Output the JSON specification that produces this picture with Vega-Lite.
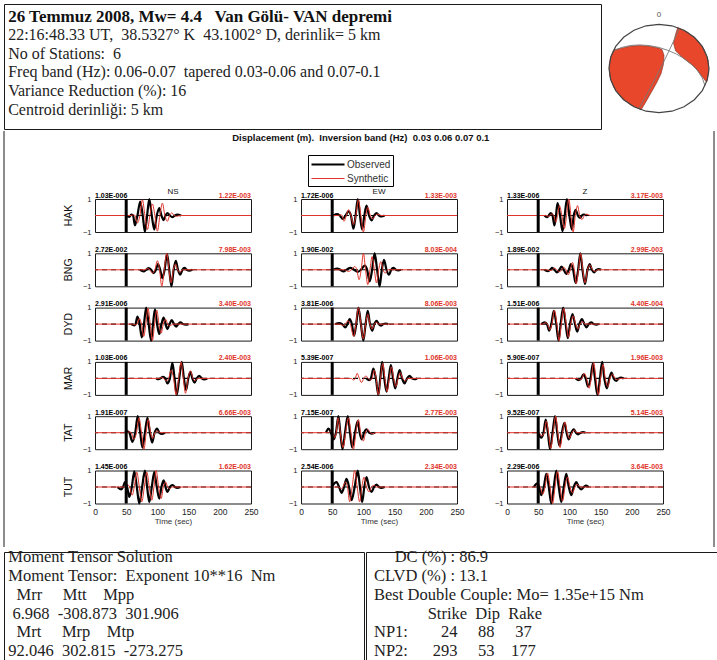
{
"$schema": "https://vega.github.io/schema/vega-lite/v6.json",
"padding": {"left": 3, "top": 3, "right": 2, "bottom": 0},
"background": "white",
"spacing": 0,
"config": {
  "view": {"stroke": "#1a1a1a", "strokeWidth": 1},
  "font": "Liberation Sans",
  "axis": {"grid": false, "domain": false, "ticks": false, "labelColor": "#222", "titleColor": "#333", "labelOverlap": false},
  "axisX": {"labelOverlap": false, "labelFlush": false},
  "concat": {"spacing": 0}
},
"vconcat": [
  {"hconcat": [
    {
      "width": 597, "height": 125,
      "data": {"values": [
        {"line": 1, "txt": "26 Temmuz 2008, Mw= 4.4\u00a0\u00a0 Van Gölü- VAN depremi"},
        {"line": 2, "txt": "22:16:48.33 UT,\u00a0 38.5327° K\u00a0 43.1002° D, derinlik= 5 km"},
        {"line": 3, "txt": "No of Stations:\u00a0 6"},
        {"line": 4, "txt": "Freq band (Hz): 0.06-0.07\u00a0 tapered 0.03-0.06 and 0.07-0.1"},
        {"line": 5, "txt": "Variance Reduction (%): 16"},
        {"line": 6, "txt": "Centroid derinliği: 5 km"}
      ]},
      "encoding": {
        "x": {"datum": 0.7, "type": "quantitative", "scale": {"domain": [0, 100], "nice": false}, "axis": null},
        "y": {"field": "line", "type": "quantitative", "scale": {"domain": [0.0591, 6.7795], "reverse": true, "nice": false, "zero": false}, "axis": null},
        "text": {"field": "txt"}
      },
      "layer": [
        {"transform": [{"filter": "datum.line == 1"}], "mark": {"type": "text", "align": "left", "baseline": "alphabetic", "font": "Liberation Serif", "fontSize": 17, "fontWeight": "bold", "color": "#111"}},
        {"transform": [{"filter": "datum.line > 1"}], "mark": {"type": "text", "align": "left", "baseline": "alphabetic", "font": "Liberation Serif", "fontSize": 16, "color": "#222"}}
      ]
    },
    {
      "width": 114, "height": 125,
      "projection": {"type": "identity", "reflectY": true, "scale": 1, "translate": [57, 64.5]},
      "layer": [
        {
          "data": {"values": [
            {"type": "Feature", "properties": {"q": "P"}, "geometry": {"type": "Polygon", "coordinates": [[[-45.32,18.68],[-37.5,20.33],[-28.5,22.32],[-19.5,22.98],[-10,22.32],[-0.5,20.55],[3,19.01],[5,13.26],[4.5,4.42],[2,-5.3],[-2.5,-14.59],[-8.5,-25.19],[-13.5,-34.03],[-17.92,-41.27],[-28.68,-36.21],[-38.3,-28.41],[-45.32,-18.68],[-49.24,-7.67],[-49.81,3.85],[-48.3,11.44],[-45.32,18.68]]]}},
            {"type": "Feature", "properties": {"q": "P"}, "geometry": {"type": "Polygon", "coordinates": [[[18.73,40.98],[16.5,34.03],[14.5,25.64],[16.5,17.68],[25,9.72],[36,1.33],[47.55,-13.66],[49.81,-3.85],[49.24,7.67],[45.32,18.68],[38.3,28.41],[28.68,36.21],[18.73,40.98]]]}}
          ]},
          "mark": {"type": "geoshape", "fill": "#e8472b", "stroke": "#7a2a1c", "strokeWidth": 0.6}
        },
        {
          "data": {"values": [
            {"type": "Feature", "properties": {"q": "NP1"}, "geometry": {"type": "LineString", "coordinates": [[20.34,40.38],[16.97,32.57],[11.87,21.51],[6.08,9.49],[1.13,-0.44],[-3.92,-10.34],[-10.14,-22.19],[-16.03,-32.94],[-20.34,-40.38]]}},
            {"type": "Feature", "properties": {"q": "NP2"}, "geometry": {"type": "LineString", "coordinates": [[-46.03,17.27],[-37.7,20.95],[-28.75,22.98],[-19.35,23.6],[-9.85,22.94],[-0.4,21.13],[8.75,18.25],[17.5,14.41],[25.5,9.68],[32.65,4.07],[38.7,-2.3],[43.25,-9.41],[46.03,-17.27]]}}
          ]},
          "mark": {"type": "geoshape", "filled": false, "stroke": "#777", "strokeWidth": 0.9}
        },
        {
          "data": {"values": [
            {"type": "Feature", "properties": {"q": "circle"}, "geometry": {"type": "LineString", "coordinates": [[0,44.2],[12.94,42.69],[25,38.28],[35.36,31.25],[43.3,22.1],[48.3,11.44],[50,0],[48.3,-11.44],[43.3,-22.1],[35.36,-31.25],[25,-38.28],[12.94,-42.69],[0,-44.2],[-12.94,-42.69],[-25,-38.28],[-35.36,-31.25],[-43.3,-22.1],[-48.3,-11.44],[-50,0],[-48.3,11.44],[-43.3,22.1],[-35.36,31.25],[-25,38.28],[-12.94,42.69],[0,44.2]]}}
          ]},
          "mark": {"type": "geoshape", "filled": false, "stroke": "#444", "strokeWidth": 1.2}
        },
        {
          "data": {"values": [{"lab": "0"}]},
          "mark": {"type": "text", "fontSize": 8, "color": "#555", "baseline": "middle"},
          "encoding": {
            "longitude": {"datum": 0, "type": "quantitative"},
            "latitude": {"datum": 54, "type": "quantitative"},
            "text": {"field": "lab"}
          }
        }
      ]
    }
  ]},
  {"hconcat": [
    {"width": 59, "height": 416, "view": {"stroke": null}, "data": {"values": [{}]},
     "mark": {"type": "rule", "color": "#1a1a1a", "strokeWidth": 1},
     "encoding": {"x": {"datum": 0, "type": "quantitative", "scale": {"domain": [0, 1], "nice": false}, "axis": null}}},
    {"vconcat": [
    {"width": 1, "height": 1, "view": {"stroke": null}, "data": {"values": [{}]},
     "mark": {"type": "rule", "opacity": 0, "strokeWidth": 0.1},
     "encoding": {"x": {"datum": 0, "type": "quantitative", "scale": {"domain": [0, 1], "nice": false}, "axis": null}}},
    {
        "data": {"values": [
{"s":"HAK","c":"NS","k":"amp","a":"1.03E-006","b":"1.22E-003","t0":50},
{"s":"HAK","c":"EW","k":"amp","a":"1.72E-006","b":"1.33E-003","t0":50},
{"s":"HAK","c":"Z","k":"amp","a":"1.33E-006","b":"3.17E-003","t0":50},
{"s":"BNG","c":"NS","k":"amp","a":"2.72E-002","b":"7.98E-003","t0":50},
{"s":"BNG","c":"EW","k":"amp","a":"1.90E-002","b":"8.03E-004","t0":50},
{"s":"BNG","c":"Z","k":"amp","a":"1.89E-002","b":"2.99E-003","t0":50},
{"s":"DYD","c":"NS","k":"amp","a":"2.91E-006","b":"3.40E-003","t0":50},
{"s":"DYD","c":"EW","k":"amp","a":"3.81E-006","b":"8.06E-003","t0":50},
{"s":"DYD","c":"Z","k":"amp","a":"1.51E-006","b":"4.40E-004","t0":50},
{"s":"MAR","c":"NS","k":"amp","a":"1.03E-006","b":"2.40E-003","t0":50},
{"s":"MAR","c":"EW","k":"amp","a":"5.39E-007","b":"1.06E-003","t0":50},
{"s":"MAR","c":"Z","k":"amp","a":"5.90E-007","b":"1.96E-003","t0":50},
{"s":"TAT","c":"NS","k":"amp","a":"1.91E-007","b":"6.66E-003","t0":50},
{"s":"TAT","c":"EW","k":"amp","a":"7.15E-007","b":"2.77E-003","t0":50},
{"s":"TAT","c":"Z","k":"amp","a":"9.52E-007","b":"5.14E-003","t0":50},
{"s":"TUT","c":"NS","k":"amp","a":"1.45E-006","b":"1.62E-003","t0":50},
{"s":"TUT","c":"EW","k":"amp","a":"2.54E-006","b":"2.34E-003","t0":50},
{"s":"TUT","c":"Z","k":"amp","a":"2.29E-006","b":"3.64E-003","t0":50},

{"s":"HAK","c":"NS","k":"O","t":50,"v":0},{"s":"HAK","c":"NS","k":"O","t":55,"v":-0.08},{"s":"HAK","c":"NS","k":"O","t":58,"v":0.05},{"s":"HAK","c":"NS","k":"O","t":61,"v":0},{"s":"HAK","c":"NS","k":"O","t":64,"v":-0.6},{"s":"HAK","c":"NS","k":"O","t":68,"v":0},{"s":"HAK","c":"NS","k":"O","t":72.5,"v":0.85},{"s":"HAK","c":"NS","k":"O","t":76.5,"v":0},{"s":"HAK","c":"NS","k":"O","t":80,"v":-1},{"s":"HAK","c":"NS","k":"O","t":83.5,"v":0},{"s":"HAK","c":"NS","k":"O","t":87,"v":1},{"s":"HAK","c":"NS","k":"O","t":91,"v":0},{"s":"HAK","c":"NS","k":"O","t":95,"v":-0.85},{"s":"HAK","c":"NS","k":"O","t":99,"v":0},{"s":"HAK","c":"NS","k":"O","t":103,"v":0.45},{"s":"HAK","c":"NS","k":"O","t":106.5,"v":0},{"s":"HAK","c":"NS","k":"O","t":110,"v":-0.28},{"s":"HAK","c":"NS","k":"O","t":113,"v":0},{"s":"HAK","c":"NS","k":"O","t":116,"v":0.15},{"s":"HAK","c":"NS","k":"O","t":120,"v":0},{"s":"HAK","c":"NS","k":"O","t":124,"v":-0.1},{"s":"HAK","c":"NS","k":"O","t":128,"v":0},{"s":"HAK","c":"NS","k":"O","t":132,"v":0.05},{"s":"HAK","c":"NS","k":"O","t":138,"v":0},
{"s":"HAK","c":"NS","k":"S","t":0,"v":0},{"s":"HAK","c":"NS","k":"S","t":58,"v":0},{"s":"HAK","c":"NS","k":"S","t":62,"v":0.05},{"s":"HAK","c":"NS","k":"S","t":64,"v":0},{"s":"HAK","c":"NS","k":"S","t":68,"v":-0.45},{"s":"HAK","c":"NS","k":"S","t":72,"v":0},{"s":"HAK","c":"NS","k":"S","t":76,"v":0.95},{"s":"HAK","c":"NS","k":"S","t":80,"v":0},{"s":"HAK","c":"NS","k":"S","t":84,"v":-0.85},{"s":"HAK","c":"NS","k":"S","t":88,"v":0},{"s":"HAK","c":"NS","k":"S","t":92,"v":0.7},{"s":"HAK","c":"NS","k":"S","t":96,"v":0},{"s":"HAK","c":"NS","k":"S","t":100,"v":-0.95},{"s":"HAK","c":"NS","k":"S","t":104,"v":0},{"s":"HAK","c":"NS","k":"S","t":108,"v":0.75},{"s":"HAK","c":"NS","k":"S","t":112,"v":0},{"s":"HAK","c":"NS","k":"S","t":116,"v":-0.35},{"s":"HAK","c":"NS","k":"S","t":119.5,"v":0},{"s":"HAK","c":"NS","k":"S","t":123,"v":0.15},{"s":"HAK","c":"NS","k":"S","t":127,"v":0},{"s":"HAK","c":"NS","k":"S","t":131,"v":-0.05},{"s":"HAK","c":"NS","k":"S","t":136,"v":0},{"s":"HAK","c":"NS","k":"S","t":250,"v":0},

{"s":"HAK","c":"EW","k":"O","t":52,"v":0},{"s":"HAK","c":"EW","k":"O","t":58,"v":0.08},{"s":"HAK","c":"EW","k":"O","t":62,"v":0},{"s":"HAK","c":"EW","k":"O","t":67,"v":-0.2},{"s":"HAK","c":"EW","k":"O","t":71.5,"v":0},{"s":"HAK","c":"EW","k":"O","t":76,"v":0.25},{"s":"HAK","c":"EW","k":"O","t":80,"v":0},{"s":"HAK","c":"EW","k":"O","t":84,"v":-0.8},{"s":"HAK","c":"EW","k":"O","t":87.5,"v":0},{"s":"HAK","c":"EW","k":"O","t":91,"v":1},{"s":"HAK","c":"EW","k":"O","t":94.5,"v":0},{"s":"HAK","c":"EW","k":"O","t":98,"v":-0.85},{"s":"HAK","c":"EW","k":"O","t":101.5,"v":0},{"s":"HAK","c":"EW","k":"O","t":105,"v":0.6},{"s":"HAK","c":"EW","k":"O","t":109,"v":0},{"s":"HAK","c":"EW","k":"O","t":113,"v":-0.3},{"s":"HAK","c":"EW","k":"O","t":117,"v":0},{"s":"HAK","c":"EW","k":"O","t":121,"v":0.15},{"s":"HAK","c":"EW","k":"O","t":125,"v":0},{"s":"HAK","c":"EW","k":"O","t":129,"v":-0.06},{"s":"HAK","c":"EW","k":"O","t":134,"v":0},
{"s":"HAK","c":"EW","k":"S","t":0,"v":0},{"s":"HAK","c":"EW","k":"S","t":60,"v":0},{"s":"HAK","c":"EW","k":"S","t":64,"v":0.05},{"s":"HAK","c":"EW","k":"S","t":66,"v":0},{"s":"HAK","c":"EW","k":"S","t":69,"v":-0.35},{"s":"HAK","c":"EW","k":"S","t":72.5,"v":0},{"s":"HAK","c":"EW","k":"S","t":76,"v":0.35},{"s":"HAK","c":"EW","k":"S","t":80,"v":0},{"s":"HAK","c":"EW","k":"S","t":84,"v":-0.55},{"s":"HAK","c":"EW","k":"S","t":88,"v":0},{"s":"HAK","c":"EW","k":"S","t":92,"v":0.95},{"s":"HAK","c":"EW","k":"S","t":96,"v":0},{"s":"HAK","c":"EW","k":"S","t":100,"v":-1},{"s":"HAK","c":"EW","k":"S","t":104,"v":0},{"s":"HAK","c":"EW","k":"S","t":107,"v":0.5},{"s":"HAK","c":"EW","k":"S","t":111,"v":0},{"s":"HAK","c":"EW","k":"S","t":115,"v":-0.2},{"s":"HAK","c":"EW","k":"S","t":119,"v":0},{"s":"HAK","c":"EW","k":"S","t":123,"v":0.08},{"s":"HAK","c":"EW","k":"S","t":128,"v":0},{"s":"HAK","c":"EW","k":"S","t":250,"v":0},

{"s":"HAK","c":"Z","k":"O","t":60,"v":0},{"s":"HAK","c":"Z","k":"O","t":64,"v":-0.1},{"s":"HAK","c":"Z","k":"O","t":67,"v":0},{"s":"HAK","c":"Z","k":"O","t":70,"v":0.15},{"s":"HAK","c":"Z","k":"O","t":73,"v":0},{"s":"HAK","c":"Z","k":"O","t":76,"v":-0.6},{"s":"HAK","c":"Z","k":"O","t":78.5,"v":0},{"s":"HAK","c":"Z","k":"O","t":81,"v":0.75},{"s":"HAK","c":"Z","k":"O","t":85,"v":0},{"s":"HAK","c":"Z","k":"O","t":89,"v":-0.95},{"s":"HAK","c":"Z","k":"O","t":92.5,"v":0},{"s":"HAK","c":"Z","k":"O","t":96,"v":1},{"s":"HAK","c":"Z","k":"O","t":100,"v":0},{"s":"HAK","c":"Z","k":"O","t":104,"v":-0.85},{"s":"HAK","c":"Z","k":"O","t":107,"v":0},{"s":"HAK","c":"Z","k":"O","t":110,"v":0.35},{"s":"HAK","c":"Z","k":"O","t":113.5,"v":0},{"s":"HAK","c":"Z","k":"O","t":117,"v":-0.15},{"s":"HAK","c":"Z","k":"O","t":120,"v":0},{"s":"HAK","c":"Z","k":"O","t":123,"v":0.06},{"s":"HAK","c":"Z","k":"O","t":128,"v":0},
{"s":"HAK","c":"Z","k":"S","t":0,"v":0},{"s":"HAK","c":"Z","k":"S","t":62,"v":0},{"s":"HAK","c":"Z","k":"S","t":66,"v":-0.05},{"s":"HAK","c":"Z","k":"S","t":69,"v":0},{"s":"HAK","c":"Z","k":"S","t":72,"v":0.1},{"s":"HAK","c":"Z","k":"S","t":75,"v":0},{"s":"HAK","c":"Z","k":"S","t":78,"v":-0.4},{"s":"HAK","c":"Z","k":"S","t":81,"v":0},{"s":"HAK","c":"Z","k":"S","t":84,"v":0.6},{"s":"HAK","c":"Z","k":"S","t":88,"v":0},{"s":"HAK","c":"Z","k":"S","t":92,"v":-0.8},{"s":"HAK","c":"Z","k":"S","t":95.5,"v":0},{"s":"HAK","c":"Z","k":"S","t":99,"v":1},{"s":"HAK","c":"Z","k":"S","t":102.5,"v":0},{"s":"HAK","c":"Z","k":"S","t":106,"v":-1},{"s":"HAK","c":"Z","k":"S","t":109.5,"v":0},{"s":"HAK","c":"Z","k":"S","t":113,"v":0.6},{"s":"HAK","c":"Z","k":"S","t":116.5,"v":0},{"s":"HAK","c":"Z","k":"S","t":120,"v":-0.25},{"s":"HAK","c":"Z","k":"S","t":124,"v":0},{"s":"HAK","c":"Z","k":"S","t":128,"v":0.08},{"s":"HAK","c":"Z","k":"S","t":133,"v":0},{"s":"HAK","c":"Z","k":"S","t":250,"v":0},

{"s":"BNG","c":"NS","k":"O","t":72,"v":0},{"s":"BNG","c":"NS","k":"O","t":78,"v":-0.1},{"s":"BNG","c":"NS","k":"O","t":82,"v":0},{"s":"BNG","c":"NS","k":"O","t":86,"v":0.1},{"s":"BNG","c":"NS","k":"O","t":90,"v":0},{"s":"BNG","c":"NS","k":"O","t":94,"v":-0.2},{"s":"BNG","c":"NS","k":"O","t":97.5,"v":0},{"s":"BNG","c":"NS","k":"O","t":101,"v":0.35},{"s":"BNG","c":"NS","k":"O","t":104.5,"v":0},{"s":"BNG","c":"NS","k":"O","t":108,"v":-0.5},{"s":"BNG","c":"NS","k":"O","t":111.5,"v":0},{"s":"BNG","c":"NS","k":"O","t":115.5,"v":0.95},{"s":"BNG","c":"NS","k":"O","t":119,"v":0},{"s":"BNG","c":"NS","k":"O","t":122.5,"v":-1},{"s":"BNG","c":"NS","k":"O","t":126,"v":0},{"s":"BNG","c":"NS","k":"O","t":129.5,"v":0.55},{"s":"BNG","c":"NS","k":"O","t":133,"v":0},{"s":"BNG","c":"NS","k":"O","t":136.5,"v":-0.3},{"s":"BNG","c":"NS","k":"O","t":140,"v":0},{"s":"BNG","c":"NS","k":"O","t":143.5,"v":0.12},{"s":"BNG","c":"NS","k":"O","t":147,"v":0},{"s":"BNG","c":"NS","k":"O","t":151,"v":-0.05},{"s":"BNG","c":"NS","k":"O","t":156,"v":0},
{"s":"BNG","c":"NS","k":"S","t":0,"v":0},{"s":"BNG","c":"NS","k":"S","t":80,"v":0},{"s":"BNG","c":"NS","k":"S","t":84,"v":0.08},{"s":"BNG","c":"NS","k":"S","t":88,"v":0},{"s":"BNG","c":"NS","k":"S","t":92,"v":-0.2},{"s":"BNG","c":"NS","k":"S","t":96,"v":0},{"s":"BNG","c":"NS","k":"S","t":100,"v":0.55},{"s":"BNG","c":"NS","k":"S","t":103.5,"v":0},{"s":"BNG","c":"NS","k":"S","t":107,"v":-1},{"s":"BNG","c":"NS","k":"S","t":111,"v":0},{"s":"BNG","c":"NS","k":"S","t":115,"v":1},{"s":"BNG","c":"NS","k":"S","t":118.5,"v":0},{"s":"BNG","c":"NS","k":"S","t":122,"v":-0.8},{"s":"BNG","c":"NS","k":"S","t":125.5,"v":0},{"s":"BNG","c":"NS","k":"S","t":129,"v":0.35},{"s":"BNG","c":"NS","k":"S","t":132.5,"v":0},{"s":"BNG","c":"NS","k":"S","t":136,"v":-0.15},{"s":"BNG","c":"NS","k":"S","t":140,"v":0},{"s":"BNG","c":"NS","k":"S","t":250,"v":0},

{"s":"BNG","c":"EW","k":"O","t":52,"v":0},{"s":"BNG","c":"EW","k":"O","t":58,"v":0.08},{"s":"BNG","c":"EW","k":"O","t":63,"v":0},{"s":"BNG","c":"EW","k":"O","t":68,"v":-0.1},{"s":"BNG","c":"EW","k":"O","t":73,"v":0},{"s":"BNG","c":"EW","k":"O","t":79,"v":0.12},{"s":"BNG","c":"EW","k":"O","t":85,"v":0},{"s":"BNG","c":"EW","k":"O","t":91,"v":-0.12},{"s":"BNG","c":"EW","k":"O","t":96,"v":0},{"s":"BNG","c":"EW","k":"O","t":102,"v":0.25},{"s":"BNG","c":"EW","k":"O","t":106,"v":0},{"s":"BNG","c":"EW","k":"O","t":110,"v":-0.7},{"s":"BNG","c":"EW","k":"O","t":114,"v":0},{"s":"BNG","c":"EW","k":"O","t":118,"v":1},{"s":"BNG","c":"EW","k":"O","t":122,"v":0},{"s":"BNG","c":"EW","k":"O","t":126,"v":-1},{"s":"BNG","c":"EW","k":"O","t":129.5,"v":0},{"s":"BNG","c":"EW","k":"O","t":133,"v":0.6},{"s":"BNG","c":"EW","k":"O","t":137,"v":0},{"s":"BNG","c":"EW","k":"O","t":141,"v":-0.3},{"s":"BNG","c":"EW","k":"O","t":144.5,"v":0},{"s":"BNG","c":"EW","k":"O","t":148,"v":0.12},{"s":"BNG","c":"EW","k":"O","t":152,"v":0},{"s":"BNG","c":"EW","k":"O","t":156,"v":-0.04},{"s":"BNG","c":"EW","k":"O","t":160,"v":0},
{"s":"BNG","c":"EW","k":"S","t":0,"v":0},{"s":"BNG","c":"EW","k":"S","t":70,"v":0},{"s":"BNG","c":"EW","k":"S","t":76,"v":-0.1},{"s":"BNG","c":"EW","k":"S","t":81,"v":0},{"s":"BNG","c":"EW","k":"S","t":86,"v":0.2},{"s":"BNG","c":"EW","k":"S","t":89.5,"v":0},{"s":"BNG","c":"EW","k":"S","t":93,"v":-0.6},{"s":"BNG","c":"EW","k":"S","t":96.5,"v":0},{"s":"BNG","c":"EW","k":"S","t":100,"v":1},{"s":"BNG","c":"EW","k":"S","t":103.5,"v":0},{"s":"BNG","c":"EW","k":"S","t":107,"v":-0.9},{"s":"BNG","c":"EW","k":"S","t":110.5,"v":0},{"s":"BNG","c":"EW","k":"S","t":114,"v":0.8},{"s":"BNG","c":"EW","k":"S","t":117.5,"v":0},{"s":"BNG","c":"EW","k":"S","t":121,"v":-0.8},{"s":"BNG","c":"EW","k":"S","t":124.5,"v":0},{"s":"BNG","c":"EW","k":"S","t":128,"v":0.5},{"s":"BNG","c":"EW","k":"S","t":131.5,"v":0},{"s":"BNG","c":"EW","k":"S","t":135,"v":-0.2},{"s":"BNG","c":"EW","k":"S","t":139,"v":0},{"s":"BNG","c":"EW","k":"S","t":250,"v":0},

{"s":"BNG","c":"Z","k":"O","t":60,"v":0},{"s":"BNG","c":"Z","k":"O","t":65,"v":-0.08},{"s":"BNG","c":"Z","k":"O","t":69,"v":0},{"s":"BNG","c":"Z","k":"O","t":72.5,"v":0.12},{"s":"BNG","c":"Z","k":"O","t":76,"v":0},{"s":"BNG","c":"Z","k":"O","t":80,"v":-0.15},{"s":"BNG","c":"Z","k":"O","t":84,"v":0},{"s":"BNG","c":"Z","k":"O","t":87.5,"v":0.2},{"s":"BNG","c":"Z","k":"O","t":91,"v":0},{"s":"BNG","c":"Z","k":"O","t":95,"v":-0.25},{"s":"BNG","c":"Z","k":"O","t":99,"v":0},{"s":"BNG","c":"Z","k":"O","t":102.5,"v":0.35},{"s":"BNG","c":"Z","k":"O","t":106,"v":0},{"s":"BNG","c":"Z","k":"O","t":110,"v":-0.8},{"s":"BNG","c":"Z","k":"O","t":114,"v":0},{"s":"BNG","c":"Z","k":"O","t":117.5,"v":1},{"s":"BNG","c":"Z","k":"O","t":121,"v":0},{"s":"BNG","c":"Z","k":"O","t":125,"v":-0.85},{"s":"BNG","c":"Z","k":"O","t":129,"v":0},{"s":"BNG","c":"Z","k":"O","t":132.5,"v":0.35},{"s":"BNG","c":"Z","k":"O","t":136,"v":0},{"s":"BNG","c":"Z","k":"O","t":140,"v":-0.15},{"s":"BNG","c":"Z","k":"O","t":143.5,"v":0},{"s":"BNG","c":"Z","k":"O","t":147,"v":0.05},{"s":"BNG","c":"Z","k":"O","t":151,"v":0},
{"s":"BNG","c":"Z","k":"S","t":0,"v":0},{"s":"BNG","c":"Z","k":"S","t":64,"v":0},{"s":"BNG","c":"Z","k":"S","t":69,"v":-0.05},{"s":"BNG","c":"Z","k":"S","t":72.5,"v":0},{"s":"BNG","c":"Z","k":"S","t":76,"v":0.1},{"s":"BNG","c":"Z","k":"S","t":80,"v":0},{"s":"BNG","c":"Z","k":"S","t":84,"v":-0.12},{"s":"BNG","c":"Z","k":"S","t":88,"v":0},{"s":"BNG","c":"Z","k":"S","t":91,"v":0.15},{"s":"BNG","c":"Z","k":"S","t":94.5,"v":0},{"s":"BNG","c":"Z","k":"S","t":98,"v":-0.3},{"s":"BNG","c":"Z","k":"S","t":101.5,"v":0},{"s":"BNG","c":"Z","k":"S","t":105,"v":0.45},{"s":"BNG","c":"Z","k":"S","t":108,"v":0},{"s":"BNG","c":"Z","k":"S","t":111,"v":-0.85},{"s":"BNG","c":"Z","k":"S","t":114.5,"v":0},{"s":"BNG","c":"Z","k":"S","t":118,"v":1},{"s":"BNG","c":"Z","k":"S","t":121.5,"v":0},{"s":"BNG","c":"Z","k":"S","t":125,"v":-0.8},{"s":"BNG","c":"Z","k":"S","t":129,"v":0},{"s":"BNG","c":"Z","k":"S","t":133,"v":0.3},{"s":"BNG","c":"Z","k":"S","t":137,"v":0},{"s":"BNG","c":"Z","k":"S","t":141,"v":-0.1},{"s":"BNG","c":"Z","k":"S","t":145,"v":0},{"s":"BNG","c":"Z","k":"S","t":250,"v":0},

{"s":"DYD","c":"NS","k":"O","t":58,"v":0},{"s":"DYD","c":"NS","k":"O","t":63,"v":-0.08},{"s":"DYD","c":"NS","k":"O","t":65,"v":0},{"s":"DYD","c":"NS","k":"O","t":68,"v":0.45},{"s":"DYD","c":"NS","k":"O","t":71.5,"v":0},{"s":"DYD","c":"NS","k":"O","t":75,"v":-0.8},{"s":"DYD","c":"NS","k":"O","t":78.5,"v":0},{"s":"DYD","c":"NS","k":"O","t":82,"v":1},{"s":"DYD","c":"NS","k":"O","t":86,"v":0},{"s":"DYD","c":"NS","k":"O","t":90,"v":-1},{"s":"DYD","c":"NS","k":"O","t":93,"v":0},{"s":"DYD","c":"NS","k":"O","t":96,"v":0.9},{"s":"DYD","c":"NS","k":"O","t":99.5,"v":0},{"s":"DYD","c":"NS","k":"O","t":103,"v":-0.6},{"s":"DYD","c":"NS","k":"O","t":106.5,"v":0},{"s":"DYD","c":"NS","k":"O","t":110,"v":0.4},{"s":"DYD","c":"NS","k":"O","t":113,"v":0},{"s":"DYD","c":"NS","k":"O","t":116,"v":-0.3},{"s":"DYD","c":"NS","k":"O","t":119.5,"v":0},{"s":"DYD","c":"NS","k":"O","t":123,"v":0.25},{"s":"DYD","c":"NS","k":"O","t":126.5,"v":0},{"s":"DYD","c":"NS","k":"O","t":130,"v":-0.15},{"s":"DYD","c":"NS","k":"O","t":133.5,"v":0},{"s":"DYD","c":"NS","k":"O","t":137,"v":0.1},{"s":"DYD","c":"NS","k":"O","t":141,"v":0},{"s":"DYD","c":"NS","k":"O","t":145,"v":-0.04},{"s":"DYD","c":"NS","k":"O","t":150,"v":0},
{"s":"DYD","c":"NS","k":"S","t":0,"v":0},{"s":"DYD","c":"NS","k":"S","t":60,"v":0},{"s":"DYD","c":"NS","k":"S","t":65,"v":-0.05},{"s":"DYD","c":"NS","k":"S","t":67.5,"v":0},{"s":"DYD","c":"NS","k":"S","t":71,"v":0.35},{"s":"DYD","c":"NS","k":"S","t":74.5,"v":0},{"s":"DYD","c":"NS","k":"S","t":78,"v":-0.75},{"s":"DYD","c":"NS","k":"S","t":81.5,"v":0},{"s":"DYD","c":"NS","k":"S","t":85,"v":0.95},{"s":"DYD","c":"NS","k":"S","t":88.5,"v":0},{"s":"DYD","c":"NS","k":"S","t":92,"v":-1},{"s":"DYD","c":"NS","k":"S","t":95.5,"v":0},{"s":"DYD","c":"NS","k":"S","t":99,"v":0.85},{"s":"DYD","c":"NS","k":"S","t":102.5,"v":0},{"s":"DYD","c":"NS","k":"S","t":106,"v":-0.55},{"s":"DYD","c":"NS","k":"S","t":109.5,"v":0},{"s":"DYD","c":"NS","k":"S","t":113,"v":0.3},{"s":"DYD","c":"NS","k":"S","t":116.5,"v":0},{"s":"DYD","c":"NS","k":"S","t":120,"v":-0.1},{"s":"DYD","c":"NS","k":"S","t":125,"v":0},{"s":"DYD","c":"NS","k":"S","t":250,"v":0},

{"s":"DYD","c":"EW","k":"O","t":55,"v":0},{"s":"DYD","c":"EW","k":"O","t":61,"v":0.06},{"s":"DYD","c":"EW","k":"O","t":66,"v":0},{"s":"DYD","c":"EW","k":"O","t":71,"v":-0.2},{"s":"DYD","c":"EW","k":"O","t":74.5,"v":0},{"s":"DYD","c":"EW","k":"O","t":78,"v":0.3},{"s":"DYD","c":"EW","k":"O","t":81.5,"v":0},{"s":"DYD","c":"EW","k":"O","t":85,"v":-0.7},{"s":"DYD","c":"EW","k":"O","t":88.5,"v":0},{"s":"DYD","c":"EW","k":"O","t":92,"v":1},{"s":"DYD","c":"EW","k":"O","t":96,"v":0},{"s":"DYD","c":"EW","k":"O","t":100,"v":-1},{"s":"DYD","c":"EW","k":"O","t":103.5,"v":0},{"s":"DYD","c":"EW","k":"O","t":107,"v":0.8},{"s":"DYD","c":"EW","k":"O","t":110.5,"v":0},{"s":"DYD","c":"EW","k":"O","t":114,"v":-0.4},{"s":"DYD","c":"EW","k":"O","t":117.5,"v":0},{"s":"DYD","c":"EW","k":"O","t":121,"v":0.2},{"s":"DYD","c":"EW","k":"O","t":124.5,"v":0},{"s":"DYD","c":"EW","k":"O","t":128,"v":-0.1},{"s":"DYD","c":"EW","k":"O","t":132,"v":0},{"s":"DYD","c":"EW","k":"O","t":136,"v":0.03},{"s":"DYD","c":"EW","k":"O","t":140,"v":0},
{"s":"DYD","c":"EW","k":"S","t":0,"v":0},{"s":"DYD","c":"EW","k":"S","t":62,"v":0},{"s":"DYD","c":"EW","k":"S","t":67,"v":-0.08},{"s":"DYD","c":"EW","k":"S","t":71,"v":0},{"s":"DYD","c":"EW","k":"S","t":75,"v":0.2},{"s":"DYD","c":"EW","k":"S","t":79,"v":0},{"s":"DYD","c":"EW","k":"S","t":84.5,"v":-0.75},{"s":"DYD","c":"EW","k":"S","t":88,"v":0},{"s":"DYD","c":"EW","k":"S","t":92,"v":1},{"s":"DYD","c":"EW","k":"S","t":96,"v":0},{"s":"DYD","c":"EW","k":"S","t":100,"v":-0.9},{"s":"DYD","c":"EW","k":"S","t":103.5,"v":0},{"s":"DYD","c":"EW","k":"S","t":107,"v":0.6},{"s":"DYD","c":"EW","k":"S","t":110.5,"v":0},{"s":"DYD","c":"EW","k":"S","t":114,"v":-0.3},{"s":"DYD","c":"EW","k":"S","t":117.5,"v":0},{"s":"DYD","c":"EW","k":"S","t":121,"v":0.1},{"s":"DYD","c":"EW","k":"S","t":125,"v":0},{"s":"DYD","c":"EW","k":"S","t":250,"v":0},

{"s":"DYD","c":"Z","k":"O","t":55,"v":0},{"s":"DYD","c":"Z","k":"O","t":60,"v":0.1},{"s":"DYD","c":"Z","k":"O","t":64,"v":0},{"s":"DYD","c":"Z","k":"O","t":67.5,"v":-0.4},{"s":"DYD","c":"Z","k":"O","t":71,"v":0},{"s":"DYD","c":"Z","k":"O","t":75,"v":0.8},{"s":"DYD","c":"Z","k":"O","t":79,"v":0},{"s":"DYD","c":"Z","k":"O","t":82.5,"v":-1},{"s":"DYD","c":"Z","k":"O","t":86,"v":0},{"s":"DYD","c":"Z","k":"O","t":90,"v":1},{"s":"DYD","c":"Z","k":"O","t":94,"v":0},{"s":"DYD","c":"Z","k":"O","t":97.5,"v":-0.85},{"s":"DYD","c":"Z","k":"O","t":101,"v":0},{"s":"DYD","c":"Z","k":"O","t":105,"v":0.6},{"s":"DYD","c":"Z","k":"O","t":109,"v":0},{"s":"DYD","c":"Z","k":"O","t":112.5,"v":-0.45},{"s":"DYD","c":"Z","k":"O","t":116,"v":0},{"s":"DYD","c":"Z","k":"O","t":120,"v":0.3},{"s":"DYD","c":"Z","k":"O","t":124,"v":0},{"s":"DYD","c":"Z","k":"O","t":127.5,"v":-0.2},{"s":"DYD","c":"Z","k":"O","t":131,"v":0},{"s":"DYD","c":"Z","k":"O","t":135,"v":0.1},{"s":"DYD","c":"Z","k":"O","t":139,"v":0},{"s":"DYD","c":"Z","k":"O","t":143,"v":-0.04},{"s":"DYD","c":"Z","k":"O","t":147,"v":0},
{"s":"DYD","c":"Z","k":"S","t":0,"v":0},{"s":"DYD","c":"Z","k":"S","t":57,"v":0},{"s":"DYD","c":"Z","k":"S","t":61,"v":0.08},{"s":"DYD","c":"Z","k":"S","t":65,"v":0},{"s":"DYD","c":"Z","k":"S","t":68.5,"v":-0.35},{"s":"DYD","c":"Z","k":"S","t":72,"v":0},{"s":"DYD","c":"Z","k":"S","t":76,"v":0.85},{"s":"DYD","c":"Z","k":"S","t":80,"v":0},{"s":"DYD","c":"Z","k":"S","t":83.5,"v":-1},{"s":"DYD","c":"Z","k":"S","t":87,"v":0},{"s":"DYD","c":"Z","k":"S","t":91,"v":0.95},{"s":"DYD","c":"Z","k":"S","t":95,"v":0},{"s":"DYD","c":"Z","k":"S","t":98.5,"v":-0.8},{"s":"DYD","c":"Z","k":"S","t":102,"v":0},{"s":"DYD","c":"Z","k":"S","t":106,"v":0.5},{"s":"DYD","c":"Z","k":"S","t":110,"v":0},{"s":"DYD","c":"Z","k":"S","t":113.5,"v":-0.3},{"s":"DYD","c":"Z","k":"S","t":117,"v":0},{"s":"DYD","c":"Z","k":"S","t":121,"v":0.15},{"s":"DYD","c":"Z","k":"S","t":125,"v":0},{"s":"DYD","c":"Z","k":"S","t":250,"v":0},

{"s":"MAR","c":"NS","k":"O","t":98,"v":0},{"s":"MAR","c":"NS","k":"O","t":102,"v":-0.05},{"s":"MAR","c":"NS","k":"O","t":105,"v":0},{"s":"MAR","c":"NS","k":"O","t":109,"v":0.1},{"s":"MAR","c":"NS","k":"O","t":112.5,"v":0},{"s":"MAR","c":"NS","k":"O","t":116,"v":-0.3},{"s":"MAR","c":"NS","k":"O","t":120,"v":0},{"s":"MAR","c":"NS","k":"O","t":124,"v":0.95},{"s":"MAR","c":"NS","k":"O","t":127.5,"v":0},{"s":"MAR","c":"NS","k":"O","t":131,"v":-1},{"s":"MAR","c":"NS","k":"O","t":135,"v":0},{"s":"MAR","c":"NS","k":"O","t":139,"v":1},{"s":"MAR","c":"NS","k":"O","t":142.5,"v":0},{"s":"MAR","c":"NS","k":"O","t":146,"v":-0.7},{"s":"MAR","c":"NS","k":"O","t":149.5,"v":0},{"s":"MAR","c":"NS","k":"O","t":153,"v":0.4},{"s":"MAR","c":"NS","k":"O","t":156,"v":0},{"s":"MAR","c":"NS","k":"O","t":159.5,"v":-0.25},{"s":"MAR","c":"NS","k":"O","t":163,"v":0},{"s":"MAR","c":"NS","k":"O","t":167,"v":0.15},{"s":"MAR","c":"NS","k":"O","t":171,"v":0},{"s":"MAR","c":"NS","k":"O","t":175,"v":-0.06},{"s":"MAR","c":"NS","k":"O","t":180,"v":0},
{"s":"MAR","c":"NS","k":"S","t":0,"v":0},{"s":"MAR","c":"NS","k":"S","t":102,"v":0},{"s":"MAR","c":"NS","k":"S","t":107,"v":0.05},{"s":"MAR","c":"NS","k":"S","t":110,"v":0},{"s":"MAR","c":"NS","k":"S","t":114,"v":-0.15},{"s":"MAR","c":"NS","k":"S","t":118,"v":0},{"s":"MAR","c":"NS","k":"S","t":122,"v":0.5},{"s":"MAR","c":"NS","k":"S","t":126,"v":0},{"s":"MAR","c":"NS","k":"S","t":130,"v":-1},{"s":"MAR","c":"NS","k":"S","t":134,"v":0},{"s":"MAR","c":"NS","k":"S","t":138,"v":1},{"s":"MAR","c":"NS","k":"S","t":141.5,"v":0},{"s":"MAR","c":"NS","k":"S","t":145,"v":-0.9},{"s":"MAR","c":"NS","k":"S","t":149,"v":0},{"s":"MAR","c":"NS","k":"S","t":153,"v":0.45},{"s":"MAR","c":"NS","k":"S","t":157,"v":0},{"s":"MAR","c":"NS","k":"S","t":160,"v":-0.15},{"s":"MAR","c":"NS","k":"S","t":164,"v":0},{"s":"MAR","c":"NS","k":"S","t":250,"v":0},

{"s":"MAR","c":"EW","k":"O","t":105,"v":0},{"s":"MAR","c":"EW","k":"O","t":109,"v":-0.1},{"s":"MAR","c":"EW","k":"O","t":112,"v":0},{"s":"MAR","c":"EW","k":"O","t":116,"v":0.6},{"s":"MAR","c":"EW","k":"O","t":120,"v":0},{"s":"MAR","c":"EW","k":"O","t":124,"v":-1},{"s":"MAR","c":"EW","k":"O","t":127,"v":0},{"s":"MAR","c":"EW","k":"O","t":130,"v":1},{"s":"MAR","c":"EW","k":"O","t":133.5,"v":0},{"s":"MAR","c":"EW","k":"O","t":137,"v":-0.8},{"s":"MAR","c":"EW","k":"O","t":140.5,"v":0},{"s":"MAR","c":"EW","k":"O","t":144,"v":0.8},{"s":"MAR","c":"EW","k":"O","t":147.5,"v":0},{"s":"MAR","c":"EW","k":"O","t":151,"v":-0.6},{"s":"MAR","c":"EW","k":"O","t":154.5,"v":0},{"s":"MAR","c":"EW","k":"O","t":158,"v":0.5},{"s":"MAR","c":"EW","k":"O","t":162,"v":0},{"s":"MAR","c":"EW","k":"O","t":166,"v":-0.3},{"s":"MAR","c":"EW","k":"O","t":170,"v":0},{"s":"MAR","c":"EW","k":"O","t":174,"v":0.15},{"s":"MAR","c":"EW","k":"O","t":178,"v":0},{"s":"MAR","c":"EW","k":"O","t":182,"v":-0.05},{"s":"MAR","c":"EW","k":"O","t":186,"v":0},
{"s":"MAR","c":"EW","k":"S","t":0,"v":0},{"s":"MAR","c":"EW","k":"S","t":80,"v":0},{"s":"MAR","c":"EW","k":"S","t":84.5,"v":-0.1},{"s":"MAR","c":"EW","k":"S","t":87,"v":0},{"s":"MAR","c":"EW","k":"S","t":90,"v":0.3},{"s":"MAR","c":"EW","k":"S","t":93.5,"v":0},{"s":"MAR","c":"EW","k":"S","t":97,"v":-0.25},{"s":"MAR","c":"EW","k":"S","t":100.5,"v":0},{"s":"MAR","c":"EW","k":"S","t":104,"v":0.15},{"s":"MAR","c":"EW","k":"S","t":107.5,"v":0},{"s":"MAR","c":"EW","k":"S","t":111,"v":-0.1},{"s":"MAR","c":"EW","k":"S","t":114,"v":0},{"s":"MAR","c":"EW","k":"S","t":117,"v":0.5},{"s":"MAR","c":"EW","k":"S","t":120.5,"v":0},{"s":"MAR","c":"EW","k":"S","t":124,"v":-1},{"s":"MAR","c":"EW","k":"S","t":127.5,"v":0},{"s":"MAR","c":"EW","k":"S","t":131,"v":0.9},{"s":"MAR","c":"EW","k":"S","t":134.5,"v":0},{"s":"MAR","c":"EW","k":"S","t":138,"v":-0.8},{"s":"MAR","c":"EW","k":"S","t":141.5,"v":0},{"s":"MAR","c":"EW","k":"S","t":145,"v":0.7},{"s":"MAR","c":"EW","k":"S","t":148.5,"v":0},{"s":"MAR","c":"EW","k":"S","t":152,"v":-0.5},{"s":"MAR","c":"EW","k":"S","t":155.5,"v":0},{"s":"MAR","c":"EW","k":"S","t":159,"v":0.35},{"s":"MAR","c":"EW","k":"S","t":163,"v":0},{"s":"MAR","c":"EW","k":"S","t":167,"v":-0.15},{"s":"MAR","c":"EW","k":"S","t":171,"v":0},{"s":"MAR","c":"EW","k":"S","t":250,"v":0},

{"s":"MAR","c":"Z","k":"O","t":110,"v":0},{"s":"MAR","c":"Z","k":"O","t":115,"v":-0.1},{"s":"MAR","c":"Z","k":"O","t":119,"v":0},{"s":"MAR","c":"Z","k":"O","t":122.5,"v":0.25},{"s":"MAR","c":"Z","k":"O","t":126,"v":0},{"s":"MAR","c":"Z","k":"O","t":130,"v":-0.5},{"s":"MAR","c":"Z","k":"O","t":134,"v":0},{"s":"MAR","c":"Z","k":"O","t":137.5,"v":0.9},{"s":"MAR","c":"Z","k":"O","t":141,"v":0},{"s":"MAR","c":"Z","k":"O","t":145,"v":-1},{"s":"MAR","c":"Z","k":"O","t":149,"v":0},{"s":"MAR","c":"Z","k":"O","t":152.5,"v":1},{"s":"MAR","c":"Z","k":"O","t":156,"v":0},{"s":"MAR","c":"Z","k":"O","t":160,"v":-0.6},{"s":"MAR","c":"Z","k":"O","t":164,"v":0},{"s":"MAR","c":"Z","k":"O","t":167.5,"v":0.35},{"s":"MAR","c":"Z","k":"O","t":171,"v":0},{"s":"MAR","c":"Z","k":"O","t":175,"v":-0.15},{"s":"MAR","c":"Z","k":"O","t":179,"v":0},{"s":"MAR","c":"Z","k":"O","t":182.5,"v":0.05},{"s":"MAR","c":"Z","k":"O","t":187,"v":0},
{"s":"MAR","c":"Z","k":"S","t":0,"v":0},{"s":"MAR","c":"Z","k":"S","t":112,"v":0},{"s":"MAR","c":"Z","k":"S","t":116.5,"v":-0.08},{"s":"MAR","c":"Z","k":"S","t":120,"v":0},{"s":"MAR","c":"Z","k":"S","t":124,"v":0.3},{"s":"MAR","c":"Z","k":"S","t":127.5,"v":0},{"s":"MAR","c":"Z","k":"S","t":131.5,"v":-0.6},{"s":"MAR","c":"Z","k":"S","t":135,"v":0},{"s":"MAR","c":"Z","k":"S","t":139,"v":0.95},{"s":"MAR","c":"Z","k":"S","t":142.5,"v":0},{"s":"MAR","c":"Z","k":"S","t":146.5,"v":-1},{"s":"MAR","c":"Z","k":"S","t":150,"v":0},{"s":"MAR","c":"Z","k":"S","t":154,"v":0.85},{"s":"MAR","c":"Z","k":"S","t":157.5,"v":0},{"s":"MAR","c":"Z","k":"S","t":161.5,"v":-0.5},{"s":"MAR","c":"Z","k":"S","t":165,"v":0},{"s":"MAR","c":"Z","k":"S","t":169,"v":0.25},{"s":"MAR","c":"Z","k":"S","t":173,"v":0},{"s":"MAR","c":"Z","k":"S","t":177,"v":-0.08},{"s":"MAR","c":"Z","k":"S","t":181,"v":0},{"s":"MAR","c":"Z","k":"S","t":250,"v":0},

{"s":"TAT","c":"NS","k":"O","t":48,"v":0},{"s":"TAT","c":"NS","k":"O","t":52,"v":0.08},{"s":"TAT","c":"NS","k":"O","t":55,"v":0},{"s":"TAT","c":"NS","k":"O","t":60,"v":-0.55},{"s":"TAT","c":"NS","k":"O","t":64.5,"v":0},{"s":"TAT","c":"NS","k":"O","t":68.5,"v":1},{"s":"TAT","c":"NS","k":"O","t":72.5,"v":0},{"s":"TAT","c":"NS","k":"O","t":76,"v":-0.9},{"s":"TAT","c":"NS","k":"O","t":80,"v":0},{"s":"TAT","c":"NS","k":"O","t":84,"v":0.9},{"s":"TAT","c":"NS","k":"O","t":88,"v":0},{"s":"TAT","c":"NS","k":"O","t":91.5,"v":-0.6},{"s":"TAT","c":"NS","k":"O","t":95.5,"v":0},{"s":"TAT","c":"NS","k":"O","t":99.5,"v":0.25},{"s":"TAT","c":"NS","k":"O","t":103,"v":0},{"s":"TAT","c":"NS","k":"O","t":107,"v":-0.08},{"s":"TAT","c":"NS","k":"O","t":112,"v":0},
{"s":"TAT","c":"NS","k":"S","t":0,"v":0},{"s":"TAT","c":"NS","k":"S","t":50,"v":0},{"s":"TAT","c":"NS","k":"S","t":55,"v":0.05},{"s":"TAT","c":"NS","k":"S","t":58,"v":0},{"s":"TAT","c":"NS","k":"S","t":62,"v":-0.4},{"s":"TAT","c":"NS","k":"S","t":66.5,"v":0},{"s":"TAT","c":"NS","k":"S","t":70.5,"v":0.9},{"s":"TAT","c":"NS","k":"S","t":74.5,"v":0},{"s":"TAT","c":"NS","k":"S","t":78.5,"v":-1},{"s":"TAT","c":"NS","k":"S","t":82,"v":0},{"s":"TAT","c":"NS","k":"S","t":85.5,"v":0.8},{"s":"TAT","c":"NS","k":"S","t":89,"v":0},{"s":"TAT","c":"NS","k":"S","t":92.5,"v":-0.35},{"s":"TAT","c":"NS","k":"S","t":96,"v":0},{"s":"TAT","c":"NS","k":"S","t":100,"v":0.1},{"s":"TAT","c":"NS","k":"S","t":104,"v":0},{"s":"TAT","c":"NS","k":"S","t":250,"v":0},

{"s":"TAT","c":"EW","k":"O","t":40,"v":0},{"s":"TAT","c":"EW","k":"O","t":44,"v":0.25},{"s":"TAT","c":"EW","k":"O","t":48,"v":0},{"s":"TAT","c":"EW","k":"O","t":52.5,"v":-0.4},{"s":"TAT","c":"EW","k":"O","t":56,"v":0},{"s":"TAT","c":"EW","k":"O","t":60,"v":1},{"s":"TAT","c":"EW","k":"O","t":63,"v":0},{"s":"TAT","c":"EW","k":"O","t":66.5,"v":-1},{"s":"TAT","c":"EW","k":"O","t":70.5,"v":0},{"s":"TAT","c":"EW","k":"O","t":75,"v":1},{"s":"TAT","c":"EW","k":"O","t":78.5,"v":0},{"s":"TAT","c":"EW","k":"O","t":82,"v":-0.9},{"s":"TAT","c":"EW","k":"O","t":86.5,"v":0},{"s":"TAT","c":"EW","k":"O","t":91,"v":0.7},{"s":"TAT","c":"EW","k":"O","t":94,"v":0},{"s":"TAT","c":"EW","k":"O","t":97.5,"v":-0.4},{"s":"TAT","c":"EW","k":"O","t":101,"v":0},{"s":"TAT","c":"EW","k":"O","t":105,"v":0.2},{"s":"TAT","c":"EW","k":"O","t":109,"v":0},{"s":"TAT","c":"EW","k":"O","t":113,"v":-0.05},{"s":"TAT","c":"EW","k":"O","t":118,"v":0},
{"s":"TAT","c":"EW","k":"S","t":0,"v":0},{"s":"TAT","c":"EW","k":"S","t":44,"v":0},{"s":"TAT","c":"EW","k":"S","t":48,"v":0.1},{"s":"TAT","c":"EW","k":"S","t":51,"v":0},{"s":"TAT","c":"EW","k":"S","t":54,"v":-0.3},{"s":"TAT","c":"EW","k":"S","t":56.5,"v":0},{"s":"TAT","c":"EW","k":"S","t":59.5,"v":0.9},{"s":"TAT","c":"EW","k":"S","t":63,"v":0},{"s":"TAT","c":"EW","k":"S","t":67.5,"v":-0.9},{"s":"TAT","c":"EW","k":"S","t":71.5,"v":0},{"s":"TAT","c":"EW","k":"S","t":76,"v":0.9},{"s":"TAT","c":"EW","k":"S","t":80,"v":0},{"s":"TAT","c":"EW","k":"S","t":84,"v":-1},{"s":"TAT","c":"EW","k":"S","t":88,"v":0},{"s":"TAT","c":"EW","k":"S","t":92,"v":0.8},{"s":"TAT","c":"EW","k":"S","t":95.5,"v":0},{"s":"TAT","c":"EW","k":"S","t":100,"v":-0.5},{"s":"TAT","c":"EW","k":"S","t":103.5,"v":0},{"s":"TAT","c":"EW","k":"S","t":107,"v":0.2},{"s":"TAT","c":"EW","k":"S","t":111,"v":0},{"s":"TAT","c":"EW","k":"S","t":115,"v":-0.06},{"s":"TAT","c":"EW","k":"S","t":120,"v":0},{"s":"TAT","c":"EW","k":"S","t":250,"v":0},

{"s":"TAT","c":"Z","k":"O","t":50,"v":0},{"s":"TAT","c":"Z","k":"O","t":55,"v":-0.3},{"s":"TAT","c":"Z","k":"O","t":58.5,"v":0},{"s":"TAT","c":"Z","k":"O","t":62,"v":0.8},{"s":"TAT","c":"Z","k":"O","t":65.5,"v":0},{"s":"TAT","c":"Z","k":"O","t":69,"v":-1},{"s":"TAT","c":"Z","k":"O","t":73,"v":0},{"s":"TAT","c":"Z","k":"O","t":77,"v":1},{"s":"TAT","c":"Z","k":"O","t":80.5,"v":0},{"s":"TAT","c":"Z","k":"O","t":84,"v":-0.8},{"s":"TAT","c":"Z","k":"O","t":88,"v":0},{"s":"TAT","c":"Z","k":"O","t":92,"v":0.6},{"s":"TAT","c":"Z","k":"O","t":95.5,"v":0},{"s":"TAT","c":"Z","k":"O","t":99,"v":-0.4},{"s":"TAT","c":"Z","k":"O","t":103,"v":0},{"s":"TAT","c":"Z","k":"O","t":107,"v":0.2},{"s":"TAT","c":"Z","k":"O","t":110.5,"v":0},{"s":"TAT","c":"Z","k":"O","t":114,"v":-0.1},{"s":"TAT","c":"Z","k":"O","t":118,"v":0},{"s":"TAT","c":"Z","k":"O","t":122,"v":0.03},{"s":"TAT","c":"Z","k":"O","t":126,"v":0},
{"s":"TAT","c":"Z","k":"S","t":0,"v":0},{"s":"TAT","c":"Z","k":"S","t":51,"v":0},{"s":"TAT","c":"Z","k":"S","t":56,"v":-0.2},{"s":"TAT","c":"Z","k":"S","t":59.5,"v":0},{"s":"TAT","c":"Z","k":"S","t":63,"v":0.7},{"s":"TAT","c":"Z","k":"S","t":66.5,"v":0},{"s":"TAT","c":"Z","k":"S","t":70,"v":-0.95},{"s":"TAT","c":"Z","k":"S","t":74,"v":0},{"s":"TAT","c":"Z","k":"S","t":78,"v":1},{"s":"TAT","c":"Z","k":"S","t":81.5,"v":0},{"s":"TAT","c":"Z","k":"S","t":85,"v":-0.9},{"s":"TAT","c":"Z","k":"S","t":89,"v":0},{"s":"TAT","c":"Z","k":"S","t":93,"v":0.65},{"s":"TAT","c":"Z","k":"S","t":96.5,"v":0},{"s":"TAT","c":"Z","k":"S","t":100,"v":-0.35},{"s":"TAT","c":"Z","k":"S","t":104,"v":0},{"s":"TAT","c":"Z","k":"S","t":108,"v":0.15},{"s":"TAT","c":"Z","k":"S","t":112,"v":0},{"s":"TAT","c":"Z","k":"S","t":250,"v":0},

{"s":"TUT","c":"NS","k":"O","t":36,"v":0},{"s":"TUT","c":"NS","k":"O","t":42,"v":-0.15},{"s":"TUT","c":"NS","k":"O","t":45,"v":0},{"s":"TUT","c":"NS","k":"O","t":48,"v":0.3},{"s":"TUT","c":"NS","k":"O","t":51.5,"v":0},{"s":"TUT","c":"NS","k":"O","t":55,"v":-0.6},{"s":"TUT","c":"NS","k":"O","t":59,"v":0},{"s":"TUT","c":"NS","k":"O","t":63,"v":0.95},{"s":"TUT","c":"NS","k":"O","t":67,"v":0},{"s":"TUT","c":"NS","k":"O","t":71,"v":-1},{"s":"TUT","c":"NS","k":"O","t":75.5,"v":0},{"s":"TUT","c":"NS","k":"O","t":80,"v":1},{"s":"TUT","c":"NS","k":"O","t":83.5,"v":0},{"s":"TUT","c":"NS","k":"O","t":87,"v":-0.9},{"s":"TUT","c":"NS","k":"O","t":91,"v":0},{"s":"TUT","c":"NS","k":"O","t":95,"v":0.9},{"s":"TUT","c":"NS","k":"O","t":99,"v":0},{"s":"TUT","c":"NS","k":"O","t":103,"v":-0.7},{"s":"TUT","c":"NS","k":"O","t":106.5,"v":0},{"s":"TUT","c":"NS","k":"O","t":110,"v":0.4},{"s":"TUT","c":"NS","k":"O","t":113,"v":0},{"s":"TUT","c":"NS","k":"O","t":116,"v":-0.3},{"s":"TUT","c":"NS","k":"O","t":120,"v":0},{"s":"TUT","c":"NS","k":"O","t":124,"v":0.12},{"s":"TUT","c":"NS","k":"O","t":128,"v":0},{"s":"TUT","c":"NS","k":"O","t":132,"v":-0.05},{"s":"TUT","c":"NS","k":"O","t":137,"v":0},
{"s":"TUT","c":"NS","k":"S","t":0,"v":0},{"s":"TUT","c":"NS","k":"S","t":48,"v":0},{"s":"TUT","c":"NS","k":"S","t":52,"v":0.15},{"s":"TUT","c":"NS","k":"S","t":55.5,"v":0},{"s":"TUT","c":"NS","k":"S","t":59.5,"v":-0.5},{"s":"TUT","c":"NS","k":"S","t":63,"v":0},{"s":"TUT","c":"NS","k":"S","t":67,"v":0.9},{"s":"TUT","c":"NS","k":"S","t":71,"v":0},{"s":"TUT","c":"NS","k":"S","t":75,"v":-0.9},{"s":"TUT","c":"NS","k":"S","t":79,"v":0},{"s":"TUT","c":"NS","k":"S","t":83,"v":0.9},{"s":"TUT","c":"NS","k":"S","t":87,"v":0},{"s":"TUT","c":"NS","k":"S","t":91,"v":-0.8},{"s":"TUT","c":"NS","k":"S","t":94.5,"v":0},{"s":"TUT","c":"NS","k":"S","t":98,"v":1},{"s":"TUT","c":"NS","k":"S","t":102,"v":0},{"s":"TUT","c":"NS","k":"S","t":106,"v":-0.7},{"s":"TUT","c":"NS","k":"S","t":109.5,"v":0},{"s":"TUT","c":"NS","k":"S","t":113,"v":0.3},{"s":"TUT","c":"NS","k":"S","t":116.5,"v":0},{"s":"TUT","c":"NS","k":"S","t":120,"v":-0.1},{"s":"TUT","c":"NS","k":"S","t":124,"v":0},{"s":"TUT","c":"NS","k":"S","t":250,"v":0},

{"s":"TUT","c":"EW","k":"O","t":49,"v":0},{"s":"TUT","c":"EW","k":"O","t":57,"v":0.3},{"s":"TUT","c":"EW","k":"O","t":61,"v":0},{"s":"TUT","c":"EW","k":"O","t":65,"v":-0.35},{"s":"TUT","c":"EW","k":"O","t":69,"v":0},{"s":"TUT","c":"EW","k":"O","t":73,"v":0.5},{"s":"TUT","c":"EW","k":"O","t":77,"v":0},{"s":"TUT","c":"EW","k":"O","t":81,"v":-0.8},{"s":"TUT","c":"EW","k":"O","t":86,"v":0},{"s":"TUT","c":"EW","k":"O","t":91,"v":1},{"s":"TUT","c":"EW","k":"O","t":94.5,"v":0},{"s":"TUT","c":"EW","k":"O","t":98,"v":-0.9},{"s":"TUT","c":"EW","k":"O","t":101.5,"v":0},{"s":"TUT","c":"EW","k":"O","t":105,"v":0.6},{"s":"TUT","c":"EW","k":"O","t":109,"v":0},{"s":"TUT","c":"EW","k":"O","t":113,"v":-0.3},{"s":"TUT","c":"EW","k":"O","t":117,"v":0},{"s":"TUT","c":"EW","k":"O","t":121,"v":0.15},{"s":"TUT","c":"EW","k":"O","t":125,"v":0},{"s":"TUT","c":"EW","k":"O","t":129,"v":-0.05},{"s":"TUT","c":"EW","k":"O","t":134,"v":0},
{"s":"TUT","c":"EW","k":"S","t":0,"v":0},{"s":"TUT","c":"EW","k":"S","t":60,"v":0},{"s":"TUT","c":"EW","k":"S","t":64,"v":-0.1},{"s":"TUT","c":"EW","k":"S","t":67,"v":0},{"s":"TUT","c":"EW","k":"S","t":71,"v":0.3},{"s":"TUT","c":"EW","k":"S","t":74.5,"v":0},{"s":"TUT","c":"EW","k":"S","t":78,"v":-0.9},{"s":"TUT","c":"EW","k":"S","t":82,"v":0},{"s":"TUT","c":"EW","k":"S","t":86,"v":1},{"s":"TUT","c":"EW","k":"S","t":90,"v":0},{"s":"TUT","c":"EW","k":"S","t":94,"v":-0.9},{"s":"TUT","c":"EW","k":"S","t":97.5,"v":0},{"s":"TUT","c":"EW","k":"S","t":101,"v":0.6},{"s":"TUT","c":"EW","k":"S","t":105,"v":0},{"s":"TUT","c":"EW","k":"S","t":109,"v":-0.3},{"s":"TUT","c":"EW","k":"S","t":113,"v":0},{"s":"TUT","c":"EW","k":"S","t":117,"v":0.1},{"s":"TUT","c":"EW","k":"S","t":121,"v":0},{"s":"TUT","c":"EW","k":"S","t":250,"v":0},

{"s":"TUT","c":"Z","k":"O","t":43,"v":0},{"s":"TUT","c":"Z","k":"O","t":48,"v":0.2},{"s":"TUT","c":"Z","k":"O","t":51.5,"v":0},{"s":"TUT","c":"Z","k":"O","t":55,"v":-0.5},{"s":"TUT","c":"Z","k":"O","t":59,"v":0},{"s":"TUT","c":"Z","k":"O","t":63,"v":0.8},{"s":"TUT","c":"Z","k":"O","t":67,"v":0},{"s":"TUT","c":"Z","k":"O","t":71,"v":-1},{"s":"TUT","c":"Z","k":"O","t":75,"v":0},{"s":"TUT","c":"Z","k":"O","t":79,"v":1},{"s":"TUT","c":"Z","k":"O","t":83,"v":0},{"s":"TUT","c":"Z","k":"O","t":87,"v":-0.9},{"s":"TUT","c":"Z","k":"O","t":91,"v":0},{"s":"TUT","c":"Z","k":"O","t":95,"v":0.8},{"s":"TUT","c":"Z","k":"O","t":99,"v":0},{"s":"TUT","c":"Z","k":"O","t":103,"v":-0.5},{"s":"TUT","c":"Z","k":"O","t":107,"v":0},{"s":"TUT","c":"Z","k":"O","t":111,"v":0.3},{"s":"TUT","c":"Z","k":"O","t":115,"v":0},{"s":"TUT","c":"Z","k":"O","t":119,"v":-0.15},{"s":"TUT","c":"Z","k":"O","t":123,"v":0},{"s":"TUT","c":"Z","k":"O","t":127,"v":0.08},{"s":"TUT","c":"Z","k":"O","t":131,"v":0},
{"s":"TUT","c":"Z","k":"S","t":0,"v":0},{"s":"TUT","c":"Z","k":"S","t":45,"v":0},{"s":"TUT","c":"Z","k":"S","t":50,"v":0.15},{"s":"TUT","c":"Z","k":"S","t":53.5,"v":0},{"s":"TUT","c":"Z","k":"S","t":57,"v":-0.45},{"s":"TUT","c":"Z","k":"S","t":61,"v":0},{"s":"TUT","c":"Z","k":"S","t":65,"v":0.85},{"s":"TUT","c":"Z","k":"S","t":69,"v":0},{"s":"TUT","c":"Z","k":"S","t":73,"v":-1},{"s":"TUT","c":"Z","k":"S","t":77,"v":0},{"s":"TUT","c":"Z","k":"S","t":81,"v":0.95},{"s":"TUT","c":"Z","k":"S","t":85,"v":0},{"s":"TUT","c":"Z","k":"S","t":89,"v":-0.85},{"s":"TUT","c":"Z","k":"S","t":93,"v":0},{"s":"TUT","c":"Z","k":"S","t":97,"v":0.6},{"s":"TUT","c":"Z","k":"S","t":101,"v":0},{"s":"TUT","c":"Z","k":"S","t":105,"v":-0.35},{"s":"TUT","c":"Z","k":"S","t":109,"v":0},{"s":"TUT","c":"Z","k":"S","t":113,"v":0.15},{"s":"TUT","c":"Z","k":"S","t":117,"v":0},{"s":"TUT","c":"Z","k":"S","t":250,"v":0}
        ]},
        "facet": {
          "row": {"field": "s", "type": "nominal", "sort": ["HAK","BNG","DYD","MAR","TAT","TUT"], "title": null,
                  "header": {"labelAngle": -90, "labelOrient": "left", "labelPadding": 16, "labelFontSize": 10.5, "labelColor": "#111", "labelFont": "Liberation Sans"}},
          "column": {"field": "c", "type": "nominal", "sort": ["NS","EW","Z"], "title": null,
                  "header": {"labelFontSize": 8, "labelPadding": 3, "labelColor": "#111", "labelFont": "Liberation Sans"}}
        },
        "spacing": {"row": 21.3, "column": 50},
        "bounds": "flush",
        "title": {"text": "Displacement (m).\u00a0 Inversion band (Hz)\u00a0 0.03 0.06 0.07 0.1", "fontSize": 9.5, "fontWeight": "bold", "font": "Liberation Sans", "anchor": "middle", "dx": -6, "offset": 46, "color": "#111"},
        "resolve": {"axis": {"y": "independent"}},
        "spec": {
          "width": 156, "height": 33,
          "layer": [
            {"transform": [{"filter": "datum.k == 'amp'"}],
             "mark": {"type": "rule", "color": "#000", "strokeWidth": 1.1, "strokeDash": [5, 4]},
             "encoding": {"y": {"datum": 0, "type": "quantitative"}}},
            {"transform": [{"filter": "datum.k == 'O'"}],
             "mark": {"type": "line", "interpolate": "monotone"},
             "encoding": {
               "x": {"field": "t", "type": "quantitative", "scale": {"domain": [0, 250], "nice": false},
                     "axis": {"values": [0,50,100,150,200,250], "tickCount": 6, "labelFontSize": 8.5, "labelPadding": 3, "labelFlush": false, "labelOverlap": false, "title": "Time (sec)", "titleFontSize": 8, "titleFontWeight": "normal", "titlePadding": 2}},
               "y": {"field": "v", "type": "quantitative", "scale": {"domain": [-1, 1], "nice": false},
                     "axis": {"values": [-1,0,1], "labelFontSize": 7.5, "labelPadding": 4, "labelOverlap": false, "title": null}},
               "color": {"field": "k", "type": "nominal", "scale": {"domain": ["O","S"], "range": ["#000000", "#e0332a"]},
                         "legend": {"orient": "none", "legendX": 304, "legendY": 151, "title": null, "symbolType": "M-1,0H4.5", "symbolSize": 144, "labelFontSize": 10, "labelColor": "#333", "strokeColor": "#000", "padding": 2, "rowPadding": 2, "labelOffset": 22, "fillColor": "white", "labelExpr": "datum.label == 'O' ? 'Observed' : 'Synthetic'"}},
               "strokeWidth": {"field": "k", "type": "ordinal", "scale": {"domain": ["O","S"], "range": [2.2, 1]},
                         "legend": {"orient": "none", "legendX": 304, "legendY": 151, "title": null, "symbolType": "M-1,0H4.5", "symbolSize": 144, "labelFontSize": 10, "labelColor": "#333", "strokeColor": "#000", "padding": 2, "rowPadding": 2, "labelOffset": 22, "fillColor": "white", "labelExpr": "datum.label == 'O' ? 'Observed' : 'Synthetic'"}}
             }},
            {"transform": [{"filter": "datum.k == 'S'"}],
             "mark": {"type": "line", "interpolate": "monotone"},
             "encoding": {
               "x": {"field": "t", "type": "quantitative", "axis": {"values": [0,50,100,150,200,250], "tickCount": 6, "labelOverlap": false}},
               "y": {"field": "v", "type": "quantitative"},
               "color": {"field": "k", "type": "nominal"},
               "strokeWidth": {"field": "k", "type": "ordinal"}
             }},
            {"transform": [{"filter": "datum.k == 'amp'"}],
             "mark": {"type": "rule", "color": "#000", "strokeWidth": 3},
             "encoding": {"x": {"field": "t0", "type": "quantitative"}}},
            {"transform": [{"filter": "datum.k == 'amp'"}],
             "mark": {"type": "text", "align": "left", "baseline": "bottom", "fontSize": 7, "fontWeight": "bold", "color": "#000", "dy": -0.5},
             "encoding": {"x": {"datum": 0, "type": "quantitative"}, "y": {"datum": 1, "type": "quantitative"}, "text": {"field": "a"}}},
            {"transform": [{"filter": "datum.k == 'amp'"}],
             "mark": {"type": "text", "align": "right", "baseline": "bottom", "fontSize": 7, "fontWeight": "bold", "color": "#e0332a", "dy": -0.5},
             "encoding": {"x": {"datum": 250, "type": "quantitative"}, "y": {"datum": 1, "type": "quantitative"}, "text": {"field": "b"}}}
          ]
        }
    }
    ], "spacing": 0},
    {"width": 43, "height": 416, "view": {"stroke": null}, "data": {"values": [{}]},
     "mark": {"type": "rule", "color": "#1a1a1a", "strokeWidth": 1},
     "encoding": {"x": {"datum": 1, "type": "quantitative", "scale": {"domain": [0, 1], "nice": false}, "axis": null}}}
  ]},
  {"hconcat": [
    {
      "width": 360, "height": 115,
      "data": {"values": [
        {"line": 1, "txt": "Moment Tensor Solution"},
        {"line": 2, "txt": "Moment Tensor:\u00a0 Exponent 10**16\u00a0 Nm"},
        {"line": 3, "txt": "\u200b\u00a0\u00a0Mrr\u00a0\u00a0\u00a0\u00a0\u00a0Mtt\u00a0\u00a0\u00a0\u00a0Mpp"},
        {"line": 4, "txt": "\u200b\u00a06.968\u00a0 -308.873\u00a0 301.906"},
        {"line": 5, "txt": "\u200b\u00a0\u00a0Mrt\u00a0\u00a0\u00a0\u00a0\u00a0Mrp\u00a0\u00a0\u00a0\u00a0Mtp"},
        {"line": 6, "txt": "92.046\u00a0 302.815\u00a0 -273.275"}
      ]},
      "mark": {"type": "text", "align": "left", "baseline": "alphabetic", "font": "Liberation Serif", "fontSize": 16.5, "color": "#222"},
      "encoding": {
        "x": {"datum": 1.19, "type": "quantitative", "scale": {"domain": [0, 100], "nice": false}, "axis": null},
        "y": {"field": "line", "type": "quantitative", "scale": {"domain": [0.4695, 6.5703], "reverse": true, "nice": false, "zero": false}, "axis": null},
        "text": {"field": "txt"}
      }
    },
    {
      "width": 351, "height": 115,
      "data": {"values": [
        {"line": 1, "txt": "\u200b\u00a0\u00a0\u00a0\u00a0\u00a0DC (%)\u00a0: 86.9"},
        {"line": 2, "txt": "CLVD (%)\u00a0: 13.1"},
        {"line": 3, "txt": "Best Double Couple: Mo= 1.35e+15 Nm"},
        {"line": 4, "txt": "\u200b\u00a0\u00a0\u00a0\u00a0\u00a0\u00a0\u00a0\u00a0\u00a0\u00a0\u00a0\u00a0\u00a0Strike\u00a0\u00a0Dip\u00a0\u00a0Rake"},
        {"line": 5, "txt": "NP1:\u00a0\u00a0\u00a0\u00a0\u00a0\u00a0\u00a0\u00a024\u00a0\u00a0\u00a0\u00a0\u00a088\u00a0\u00a0\u00a0\u00a0\u00a037"},
        {"line": 6, "txt": "NP2:\u00a0\u00a0\u00a0\u00a0\u00a0\u00a0293\u00a0\u00a0\u00a0\u00a0\u00a053\u00a0\u00a0\u00a0\u00a0177"}
      ]},
      "mark": {"type": "text", "align": "left", "baseline": "alphabetic", "font": "Liberation Serif", "fontSize": 16.5, "color": "#222"},
      "encoding": {
        "x": {"datum": 2.28, "type": "quantitative", "scale": {"domain": [0, 100], "nice": false}, "axis": null},
        "y": {"field": "line", "type": "quantitative", "scale": {"domain": [0.4695, 6.5703], "reverse": true, "nice": false, "zero": false}, "axis": null},
        "text": {"field": "txt"}
      }
    }
  ]}
]
}
